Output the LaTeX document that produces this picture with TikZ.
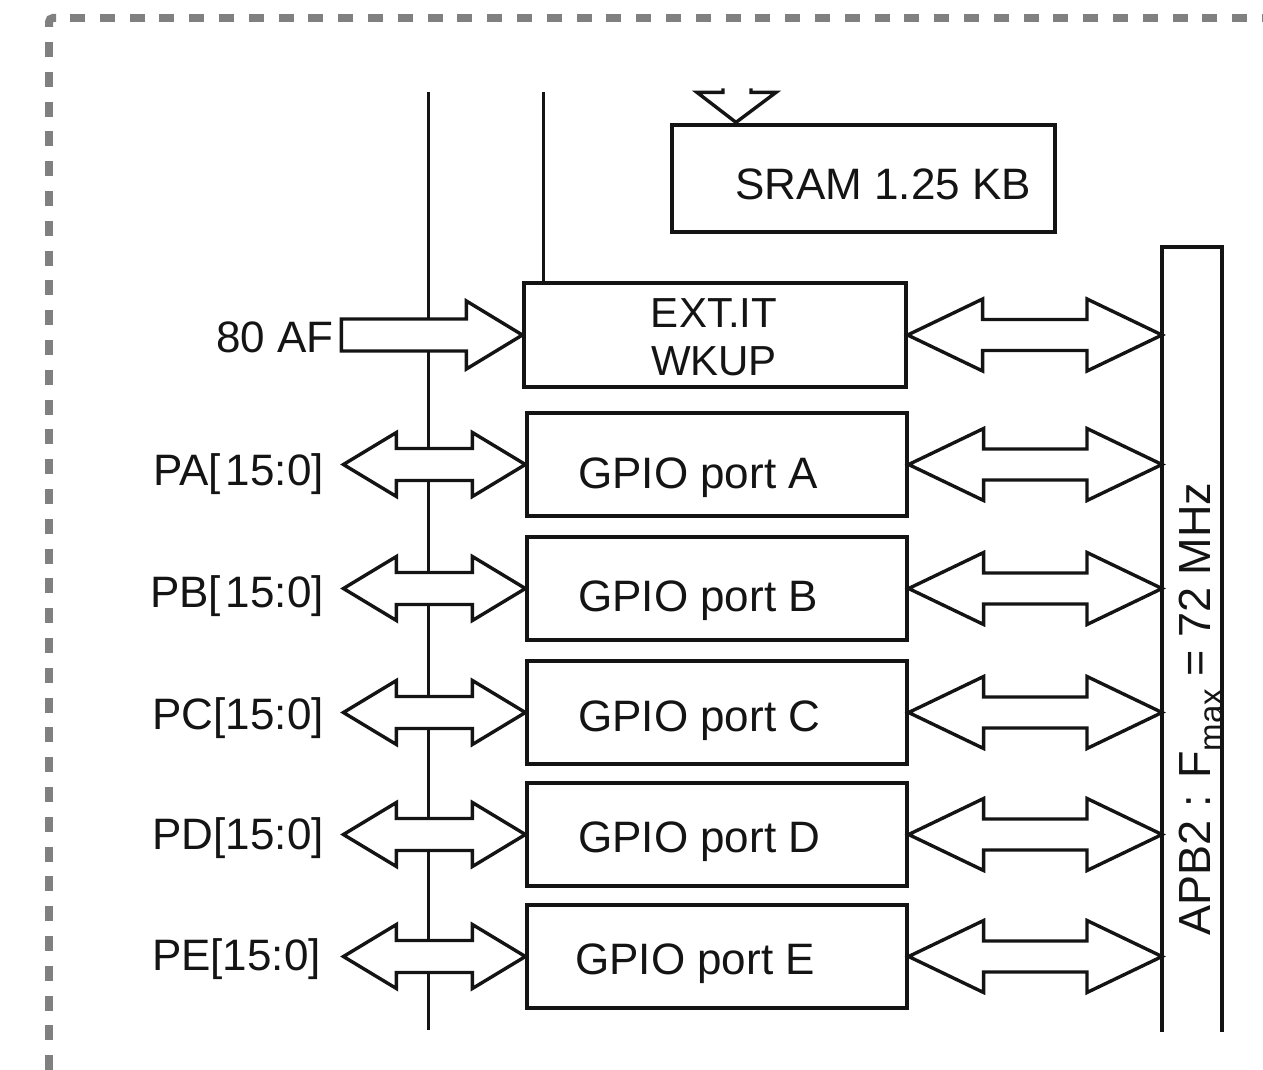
\documentclass[tikz,border=0pt]{standalone}
\usepackage{fontspec}
\setmainfont{Liberation Sans}
\usetikzlibrary{calc}
\definecolor{bordergray}{RGB}{128,128,128}
\definecolor{ink}{RGB}{20,20,20}
% #1 left tip, #2 right tip, #3 head length, #4 head half width, #5 shaft half width
\newcommand\DblArrow[5]{%
  \filldraw[arrowsty] (#1) -- ($(#1)+(#3,#4)$) -- ($(#1)+(#3,#5)$) -- ($(#2)+(-#3,#5)$) -- ($(#2)+(-#3,#4)$) -- (#2)
    -- ($(#2)+(-#3,-#4)$) -- ($(#2)+(-#3,-#5)$) -- ($(#1)+(#3,-#5)$) -- ($(#1)+(#3,-#4)$) -- cycle;}
\begin{document}
\begin{tikzpicture}[x=1pt,y=-1pt,
  box/.style={draw=ink, line width=3.2pt, rectangle, inner sep=0pt},
  arrowsty/.style={draw=ink, fill=white, line width=3.4pt, line join=miter},
  bus/.style={draw=ink, line width=3pt},
  lbl/.style={text=ink, inner sep=0pt, font=\fontsize{44}{48}\selectfont},
  borderline/.style={draw=bordergray, line width=8pt},
  borderdash/.style={borderline, dash pattern=on 15pt off 14.8pt}]
\useasboundingbox (0,0) rectangle (1263,1070);

% dashed frame
\draw[borderline, rounded corners=4pt] (49,27) -- (49,18) -- (56,18);
\draw[borderdash] (70,18) -- (1263,18);
\draw[borderdash] (49,42) -- (49,1070);

% boxes
\node[box, minimum width=383pt, minimum height=107pt] (sram) at (863.5,178.5) {};
\node[box, minimum width=382pt, minimum height=104pt] (ext) at (715,335) {};
\node[box, minimum width=380pt, minimum height=103pt] (gpioA) at (717,464.5) {};
\node[box, minimum width=380pt, minimum height=103pt] (gpioB) at (717,588.5) {};
\node[box, minimum width=380pt, minimum height=103pt] (gpioC) at (717,712.5) {};
\node[box, minimum width=380pt, minimum height=103pt] (gpioD) at (717,834.5) {};
\node[box, minimum width=380pt, minimum height=103pt] (gpioE) at (717,956.5) {};

% APB2 bar (open at the bottom)
\coordinate (apbTL) at (1162,247);
\coordinate (apbTR) at (1222,247);
\draw[box] (apbTL |- 0,1032) -- (apbTL) -- (apbTR) -- (apbTR |- 0,1032);

% vertical bus lines
\coordinate (busTop) at (428,92);
\coordinate (busBot) at (428,1030);
\draw[bus] (busTop) -- (busBot);
\coordinate (itTop) at (543,92);
\draw[bus] (itTop) -- (itTop |- ext.north);

% arrow into SRAM
\coordinate (sT) at ($(sram.north)+(-127.5,-1)$);
\draw[arrowsty, fill=none] ($(sT)+(-13,-34)$) -- ($(sT)+(-13,-30)$) -- ($(sT)+(-39,-30)$) -- (sT)
  -- ($(sT)+(40,-30)$) -- ($(sT)+(15,-30)$) -- ($(sT)+(15,-34)$);

% 80 AF arrow
\coordinate (afT) at ($(ext.west)+(-181,0)$);
\filldraw[arrowsty] ($(afT)+(0,-16)$) -- ($(ext.west)+(-56,-16)$) -- ($(ext.west)+(-56,-34)$) -- (ext.west)
  -- ($(ext.west)+(-56,34)$) -- ($(ext.west)+(-56,16)$) -- ($(afT)+(0,16)$) -- cycle;

% left double arrows
\foreach \p in {A,B,C,D,E}{
  \coordinate (l\p) at ($(gpio\p.west)+(-182,0)$);
  \DblArrow{l\p}{gpio\p.west}{53}{32}{16}
}
% right double arrows
\coordinate (rX) at (apbTL |- ext.east);
\DblArrow{ext.east}{rX}{75}{36}{15.5}
\foreach \p in {A,B,C,D,E}{
  \coordinate (r\p) at (apbTL |- gpio\p.east);
  \DblArrow{gpio\p.east}{r\p}{75}{36}{15.5}
}

% texts
\node[lbl, anchor=base west] (tsram) at (735,199) {SRAM 1.25 KB};
\node[lbl, anchor=base, font=\fontsize{42}{48}\selectfont] (text1) at (714,327) {EXT.IT};
\node[lbl, anchor=base, font=\fontsize{42}{48}\selectfont] (text2) at (714,375) {WKUP};
\node[lbl, anchor=base east] (af) at (334,352) {80 AF};
\node[lbl, anchor=base west] (tA) at (578,488) {GPIO port A};
\node[lbl, anchor=base west] (tB) at (578,611) {GPIO port B};
\node[lbl, anchor=base west] (tC) at (578,731) {GPIO port C};
\node[lbl, anchor=base west] (tD) at (578,852) {GPIO port D};
\node[lbl, anchor=base west] (tE) at (575,974) {GPIO port E};
\node[lbl, anchor=base east] (pa) at (324,485) {PA[\kern5pt15:0]};
\node[lbl, anchor=base east] (pb) at (324,607) {PB[\kern5pt15:0]};
\node[lbl, anchor=base east] (pc) at (324,729) {PC[15:0]};
\node[lbl, anchor=base east] (pd) at (324,849) {PD[15:0]};
\node[lbl, anchor=base east] (pe) at (321,970) {PE[15:0]};
\node[lbl, rotate=90, anchor=base, font=\fontsize{45}{48}\selectfont] (apb) at (1210,709)
  {APB2 : F\raisebox{-0.28em}{\fontsize{33}{33}\selectfont max} = 72 MHz};
\end{tikzpicture}
\end{document}
